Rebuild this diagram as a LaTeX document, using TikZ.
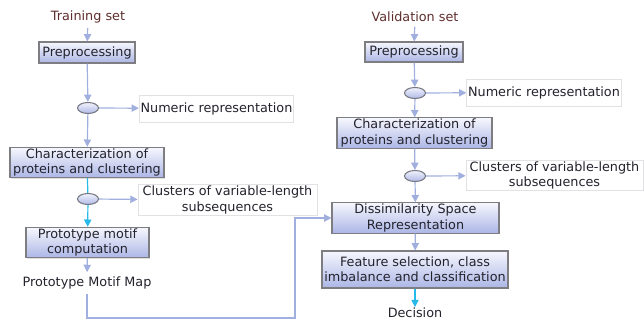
\documentclass[tikz,border=0pt]{standalone}
\usepackage{fontspec}
\setmainfont{DejaVu Sans}
\usepackage{tikz}
\usetikzlibrary{arrows.meta,shadows,shapes.geometric}

\begin{document}
\begin{tikzpicture}[x=0.75pt,y=0.75pt,yscale=-1,xscale=1,
    font=\fontsize{9.6}{11.4}\selectfont,text={rgb,255:red,35;green,35;blue,45},
    stepbox/.style={draw={rgb,255:red,125;green,125;blue,130},line width=0.8pt,
        top color={rgb,255:red,246;green,247;blue,253},bottom color={rgb,255:red,172;green,182;blue,230},
        drop shadow={shadow xshift=1pt,shadow yshift=-1pt,fill=black!25},
        align=center,inner sep=1pt},
    outbox/.style={draw={rgb,255:red,226;green,226;blue,228},line width=0.6pt,fill=white,align=center,inner sep=1pt},
    joint/.style={ellipse,draw={rgb,255:red,120;green,120;blue,130},line width=0.8pt,
        top color={rgb,255:red,240;green,242;blue,252},bottom color={rgb,255:red,175;green,185;blue,230},
        minimum width=21*0.75pt,minimum height=11*0.75pt,inner sep=0pt},
    link/.style={draw={rgb,255:red,160;green,175;blue,222},line width=0.9pt},
    flow/.style={link,-{Triangle[length=5.5pt,width=5.5pt]}},
    cyanflow/.style={draw={rgb,255:red,40;green,185;blue,235},line width=0.9pt,-{Triangle[length=5.5pt,width=5.5pt]}}
    ]
    \useasboundingbox (0,0) rectangle (644,320);

    % training branch
    \node [text={rgb,255:red,95;green,45;blue,45}] (tset) at (88,17) {Training set};
    \node [stepbox,minimum width=96*0.75pt,minimum height=21*0.75pt] (lpre) at (87,52.5) {Preprocessing};
    \node [joint] (lell) at (88,108) {};
    \node [outbox,minimum width=153*0.75pt,minimum height=27*0.75pt] (lnum) at (216.5,108.5) {Numeric representation};
    \node [stepbox,minimum width=154*0.75pt,minimum height=29*0.75pt] (lchar) at (87,162.5) {Characterization of\\proteins and clustering};
    \node [joint] (lell2) at (88,199) {};
    \node [outbox,minimum width=179*0.75pt,minimum height=26*0.75pt] (lclus) at (227.5,200) {Clusters of variable-length\\subsequences};
    \node [stepbox,minimum width=123*0.75pt,minimum height=29*0.75pt] (lproto) at (87.5,242.5) {Prototype motif\\computation};
    \node (pmm) at (87,283) {Prototype Motif Map};

    % validation branch
    \node [text={rgb,255:red,95;green,45;blue,45}] (vset) at (415,17) {Validation set};
    \node [stepbox,minimum width=98*0.75pt,minimum height=20*0.75pt] (rpre) at (414,52) {Preprocessing};
    \node [joint] (rell) at (415,93) {};
    \node [outbox,minimum width=154*0.75pt,minimum height=27*0.75pt] (rnum) at (544,92.5) {Numeric representation};
    \node [stepbox,minimum width=155*0.75pt,minimum height=30*0.75pt] (rchar) at (414.5,133) {Characterization of\\proteins and clustering};
    \node [joint] (rell2) at (415,176) {};
    \node [outbox,minimum width=177*0.75pt,minimum height=27*0.75pt] (rclus) at (554.5,175.5) {Clusters of variable-length\\subsequences};
    \node [stepbox,minimum width=167*0.75pt,minimum height=30*0.75pt] (diss) at (415.5,218) {Dissimilarity Space\\Representation};
    \node [stepbox,minimum width=186*0.75pt,minimum height=37*0.75pt] (feat) at (415,269.5) {Feature selection, class\\imbalance and classification};
    \node [inner sep=0.5pt] (dec) at (415,313) {Decision};

    % connectors, left
    \draw [flow] (tset) -- (lpre);
    \draw [flow] (lpre) -- (lell);
    \draw [flow] (lell) -- (lnum);
    \draw [flow] (lell) -- (lchar);
    \draw [cyanflow,-] (lchar) -- (lell2);
    \draw [flow] (lell2) -- (lclus);
    \draw [cyanflow] (lell2) -- (lproto);
    \draw [flow] (lproto) -- (pmm);
    \draw [flow] (pmm.south) |- (295,318) |- (diss.west);

    % connectors, right
    \draw [flow] (vset) -- (rpre);
    \draw [flow] (rpre) -- (rell);
    \draw [flow] (rell) -- (rnum);
    \draw [flow] (rell) -- (rchar);
    \draw [flow] (rchar) -- (rell2);
    \draw [flow] (rell2) -- (rclus);
    \draw [flow] (rell2) -- (diss);
    \draw [flow] (diss) -- (feat);
    \draw [cyanflow] (feat) -- (dec);

\end{tikzpicture}
\end{document}
